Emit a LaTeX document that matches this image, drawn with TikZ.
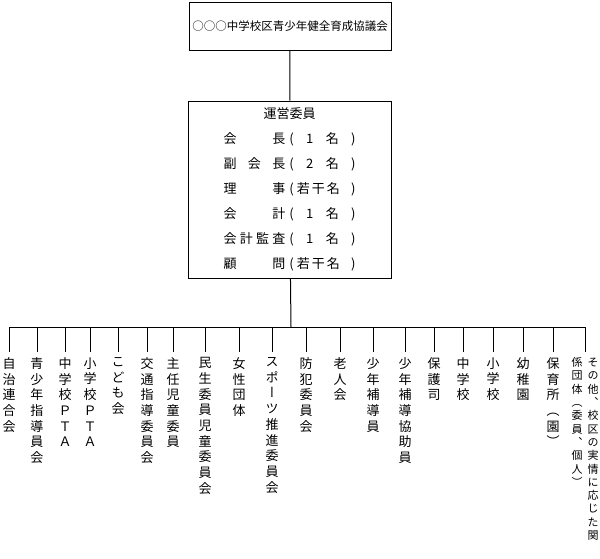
\documentclass[tikz,border=0pt]{standalone}
\usepackage{fontspec}
\setmainfont{Noto Sans CJK JP}
\newfontfamily\vfont[RawFeature=+vert]{Noto Sans CJK JP}
\usetikzlibrary{positioning}

% 縦書き用：1文字ずつ積む
\makeatletter
\newcommand\vstack[1]{\vtop{\lineskiplimit=-\maxdimen
  \@tfor\vs@c:=#1\do{\hbox to 1em{\hss\vs@c\hss}}}}
\makeatother
% 運営委員の1行
\newcommand\yline[2]{\hbox to 132pt{\hbox to 62pt{#1}\hfill\hbox to 66pt{#2}}}
\newcommand\jakkan{(\kern3pt 若\kern2pt 干\kern2pt 名\hfill )}

\begin{document}
\begin{tikzpicture}[x=1pt, y=-1pt, line width=1pt,
    box/.style={draw, inner sep=0pt},
    lab/.style={anchor=north, inner xsep=0pt, inner ysep=5pt,
      font=\vfont\fontsize{13}{15.7}\selectfont}]
    \useasboundingbox (0,0) rectangle (600,558);

    % 協議会
    \node[box, minimum width=202, minimum height=48,
      font=\fontsize{11.5}{14}\selectfont] (top) at (290,26)
      {○○○中学校区青少年健全育成協議会};

    % 運営委員
    \node[box, minimum width=203, minimum height=177,
      font=\fontsize{13}{25}\selectfont] (mid) at (289.5,189.5)
      {\vbox{\baselineskip=25pt
        \hbox to 132pt{\hss 運営委員\hss}
        \yline{会\hfill 長}{(\hfill 1\hfill 名\hfill )}
        \yline{副\hfill 会\hfill 長}{(\hfill 2\hfill 名\hfill )}
        \yline{理\hfill 事}{\jakkan}
        \yline{会\hfill 計}{(\hfill 1\hfill 名\hfill )}
        \yline{会\hfill 計\hfill 監\hfill 査}{(\hfill 1\hfill 名\hfill )}
        \yline{顧\hfill 問}{\jakkan}}};

    \draw (top) -- (mid);
    \coordinate (hub) at (291,327);
    \draw (mid) -- (hub);

    % 関係団体
    \foreach \x/\t [count=\i] in {9/自治連合会, 37/青少年指導員会,
        65/中学校ＰＴＡ, 90/小学校ＰＴＡ, 118/こども会, 147/交通指導委員会,
        173/主任児童委員, 205/民生委員児童委員会, 239/女性団体,
        272/スポーツ推進委員会, 306/防犯委員会, 340/老人会, 373/少年補導員,
        405/少年補導協助員, 434/保護司, 463/中学校, 493/小学校, 523/幼稚園,
        553/保育所（園）} {
      \coordinate (t\i) at (\x,327);
      \node[lab] (l\i) at (\x,352) {\expandafter\vstack\expandafter{\t}};
      \draw (t\i) -- (l\i);
    }
    \coordinate (t20) at (585,327);
    \node[lab, font=\vfont\fontsize{11}{13.3}\selectfont] (l20) at (585,352)
      {\vstack{係団体（委員、個人）}\kern5pt\vstack{その他、校区の実情に応じた関}};
    \draw (t20) -- (l20);
    \draw (t1) -- (t20);
\end{tikzpicture}
\end{document}
